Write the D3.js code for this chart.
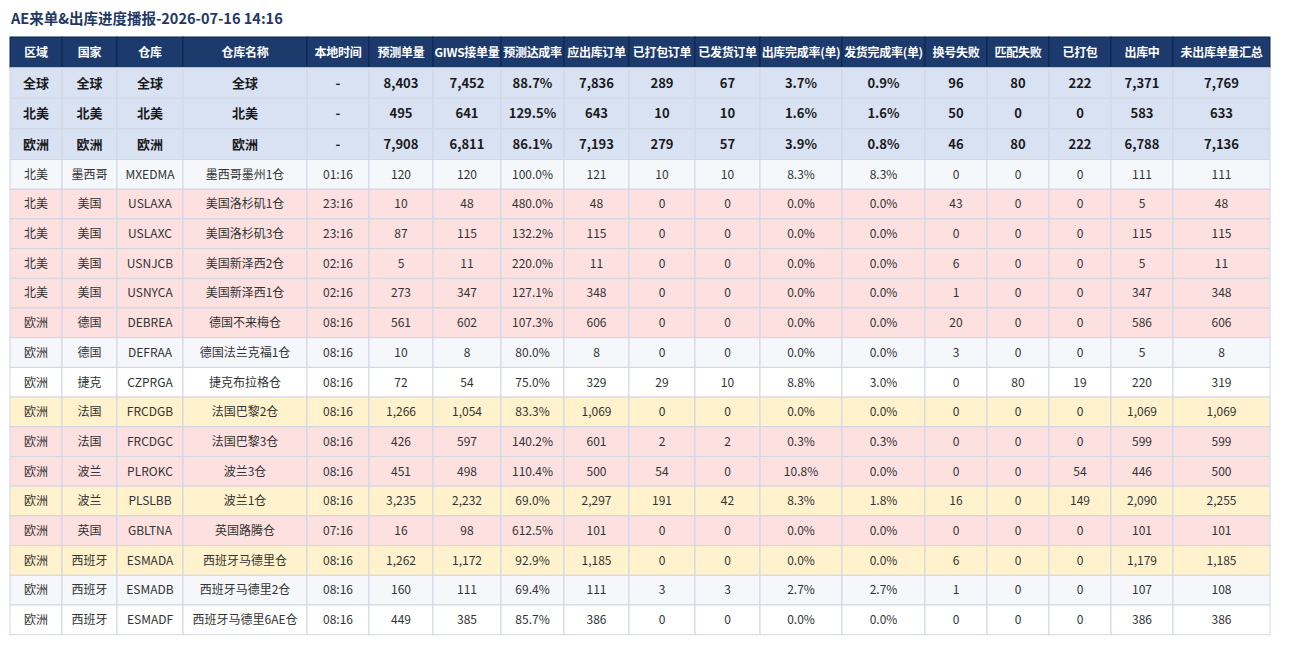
<!DOCTYPE html>
<html>
<head>
<meta charset="utf-8">
<script src="https://cdn.jsdelivr.net/npm/d3@7/dist/d3.min.js"></script>
<style>
  html, body { margin: 0; padding: 0; background: #fff; }
  svg { display: block; font-family: "Noto Sans CJK SC", "Noto Sans", sans-serif; }
</style>
</head>
<body>
<svg id="chart" width="1300" height="646"></svg>
<script>
const TITLE = "AE来单&出库进度播报-2026-07-16 14:16";

const headers = ["区域", "国家", "仓库", "仓库名称", "本地时间", "预测单量", "GIWS接单量", "预测达成率",
  "应出库订单", "已打包订单", "已发货订单", "出库完成率(单)", "发货完成率(单)", "换号失败", "匹配失败",
  "已打包", "出库中", "未出库单量汇总"];

// summary rows (全球 / 北美 / 欧洲)
const sumRegions   = ["全球", "北美", "欧洲"];
const sumForecast  = [8403, 495, 7908];
const sumGiws      = [7452, 641, 6811];
const sumRate      = [88.7, 129.5, 86.1];
const sumOutbound  = [7836, 643, 7193];
const sumPacked    = [289, 10, 279];
const sumShipped   = [67, 10, 57];
const sumOutRate   = [3.7, 1.6, 3.9];
const sumShipRate  = [0.9, 1.6, 0.8];
const sumSwapFail  = [96, 50, 46];
const sumMatchFail = [80, 0, 80];
const sumPackedCnt = [222, 0, 222];
const sumInProg    = [7371, 583, 6788];
const sumPending   = [7769, 633, 7136];

// warehouse rows
const regions    = ["北美", "北美", "北美", "北美", "北美", "欧洲", "欧洲", "欧洲", "欧洲", "欧洲", "欧洲", "欧洲", "欧洲", "欧洲", "欧洲", "欧洲"];
const countries  = ["墨西哥", "美国", "美国", "美国", "美国", "德国", "德国", "捷克", "法国", "法国", "波兰", "波兰", "英国", "西班牙", "西班牙", "西班牙"];
const warehouses = ["MXEDMA", "USLAXA", "USLAXC", "USNJCB", "USNYCA", "DEBREA", "DEFRAA", "CZPRGA", "FRCDGB", "FRCDGC", "PLROKC", "PLSLBB", "GBLTNA", "ESMADA", "ESMADB", "ESMADF"];
const whNames    = ["墨西哥墨州1仓", "美国洛杉矶1仓", "美国洛杉矶3仓", "美国新泽西2仓", "美国新泽西1仓", "德国不来梅仓", "德国法兰克福1仓", "捷克布拉格仓", "法国巴黎2仓", "法国巴黎3仓", "波兰3仓", "波兰1仓", "英国路腾仓", "西班牙马德里仓", "西班牙马德里2仓", "西班牙马德里6AE仓"];
const localTimes = ["01:16", "23:16", "23:16", "02:16", "02:16", "08:16", "08:16", "08:16", "08:16", "08:16", "08:16", "08:16", "07:16", "08:16", "08:16", "08:16"];
const forecast   = [120, 10, 87, 5, 273, 561, 10, 72, 1266, 426, 451, 3235, 16, 1262, 160, 449];
const giws       = [120, 48, 115, 11, 347, 602, 8, 54, 1054, 597, 498, 2232, 98, 1172, 111, 385];
const rate       = [100.0, 480.0, 132.2, 220.0, 127.1, 107.3, 80.0, 75.0, 83.3, 140.2, 110.4, 69.0, 612.5, 92.9, 69.4, 85.7];
const outbound   = [121, 48, 115, 11, 348, 606, 8, 329, 1069, 601, 500, 2297, 101, 1185, 111, 386];
const packed     = [10, 0, 0, 0, 0, 0, 0, 29, 0, 2, 54, 191, 0, 0, 3, 0];
const shipped    = [10, 0, 0, 0, 0, 0, 0, 10, 0, 2, 0, 42, 0, 0, 3, 0];
const outRate    = [8.3, 0.0, 0.0, 0.0, 0.0, 0.0, 0.0, 8.8, 0.0, 0.3, 10.8, 8.3, 0.0, 0.0, 2.7, 0.0];
const shipRate   = [8.3, 0.0, 0.0, 0.0, 0.0, 0.0, 0.0, 3.0, 0.0, 0.3, 0.0, 1.8, 0.0, 0.0, 2.7, 0.0];
const swapFail   = [0, 43, 0, 6, 1, 20, 3, 0, 0, 0, 0, 16, 0, 6, 1, 0];
const matchFail  = [0, 0, 0, 0, 0, 0, 0, 80, 0, 0, 0, 0, 0, 0, 0, 0];
const packedCnt  = [0, 0, 0, 0, 0, 0, 0, 19, 0, 0, 54, 149, 0, 0, 0, 0];
const inProgress = [111, 5, 115, 5, 347, 586, 5, 220, 1069, 599, 446, 2090, 101, 1179, 107, 386];
const pending    = [111, 48, 115, 11, 348, 606, 8, 319, 1069, 599, 500, 2255, 101, 1185, 108, 386];
// row highlight: "" = normal, "red" = pink warning, "yellow" = yellow warning
const rowStatus  = ["", "red", "red", "red", "red", "red", "", "", "yellow", "red", "red", "yellow", "red", "yellow", "", ""];

const colWidths = [52, 55, 66, 124, 62, 64, 68, 63, 65, 66, 65, 82, 83, 62, 62, 62, 62, 97];

const fmtInt = d3.format(",");
const fmtPct = v => d3.format(".1f")(v) + "%";

const svg = d3.select("#chart");

const tableLeft = 10, tableTop = 37;
const headerH = 30.7, sumH = 30.6, rowH = 29.7;

const colX = [tableLeft];
colWidths.forEach((w, i) => colX.push(colX[i] + w));

// build row value arrays
const sumRows = sumRegions.map((r, i) => [r, r, r, r, "-",
  fmtInt(sumForecast[i]), fmtInt(sumGiws[i]), fmtPct(sumRate[i]), fmtInt(sumOutbound[i]),
  fmtInt(sumPacked[i]), fmtInt(sumShipped[i]), fmtPct(sumOutRate[i]), fmtPct(sumShipRate[i]),
  fmtInt(sumSwapFail[i]), fmtInt(sumMatchFail[i]), fmtInt(sumPackedCnt[i]), fmtInt(sumInProg[i]), fmtInt(sumPending[i])]);

const detailRows = regions.map((r, i) => [r, countries[i], warehouses[i], whNames[i], localTimes[i],
  fmtInt(forecast[i]), fmtInt(giws[i]), fmtPct(rate[i]), fmtInt(outbound[i]),
  fmtInt(packed[i]), fmtInt(shipped[i]), fmtPct(outRate[i]), fmtPct(shipRate[i]),
  fmtInt(swapFail[i]), fmtInt(matchFail[i]), fmtInt(packedCnt[i]), fmtInt(inProgress[i]), fmtInt(pending[i])]);

const rows = [];
let y = tableTop;
rows.push({ cells: headers, y, h: headerH, kind: "head" }); y += headerH;
sumRows.forEach(c => { rows.push({ cells: c, y, h: sumH, kind: "sum" }); y += sumH; });
detailRows.forEach((c, i) => { rows.push({ cells: c, y, h: rowH, kind: "row", idx: i, status: rowStatus[i] }); y += rowH; });

const fillFor = r => {
  if (r.kind === "head") return "#1d3a6c";
  if (r.kind === "sum") return "#d9e2f3";
  if (r.status === "red") return "#fde0e0";
  if (r.status === "yellow") return "#fff2cc";
  return r.idx % 2 === 0 ? "#f5f7fb" : "#ffffff";
};

svg.append("text")
  .attr("x", 11).attr("y", 24)
  .attr("font-size", 14.5).attr("font-weight", "bold")
  .attr("fill", "#1f3864")
  .text(TITLE);

const rowG = svg.selectAll("g.row")
  .data(rows)
  .join("g")
  .attr("class", "row")
  .attr("transform", d => `translate(0,${d.y})`);

rowG.selectAll("rect")
  .data(d => d.cells.map((c, j) => ({ c, j, r: d })))
  .join("rect")
  .attr("x", d => colX[d.j])
  .attr("y", 0)
  .attr("width", d => colWidths[d.j])
  .attr("height", d => d.r.h)
  .attr("fill", d => fillFor(d.r))
  .attr("stroke", d => d.r.kind === "head" ? "#0f2550" : "#d0d6e2")
  .attr("stroke-width", 1);

rowG.selectAll("text")
  .data(d => d.cells.map((c, j) => ({ c, j, r: d })))
  .join("text")
  .attr("x", d => colX[d.j] + colWidths[d.j] / 2)
  .attr("y", d => d.r.h / 2)
  .attr("dy", "0.36em")
  .attr("text-anchor", "middle")
  .attr("font-size", d => d.r.kind === "row" ? 12 : (d.r.kind === "head" ? 12 : 13))
  .attr("font-weight", d => d.r.kind === "row" ? "normal" : "bold")
  .attr("letter-spacing", d => d.r.kind === "head" ? "-0.3px" : null)
  .attr("fill", d => d.r.kind === "head" ? "#ffffff" : (d.r.kind === "sum" ? "#1a1a1a" : "#333333"))
  .text(d => d.c);
</script>
</body>
</html>
